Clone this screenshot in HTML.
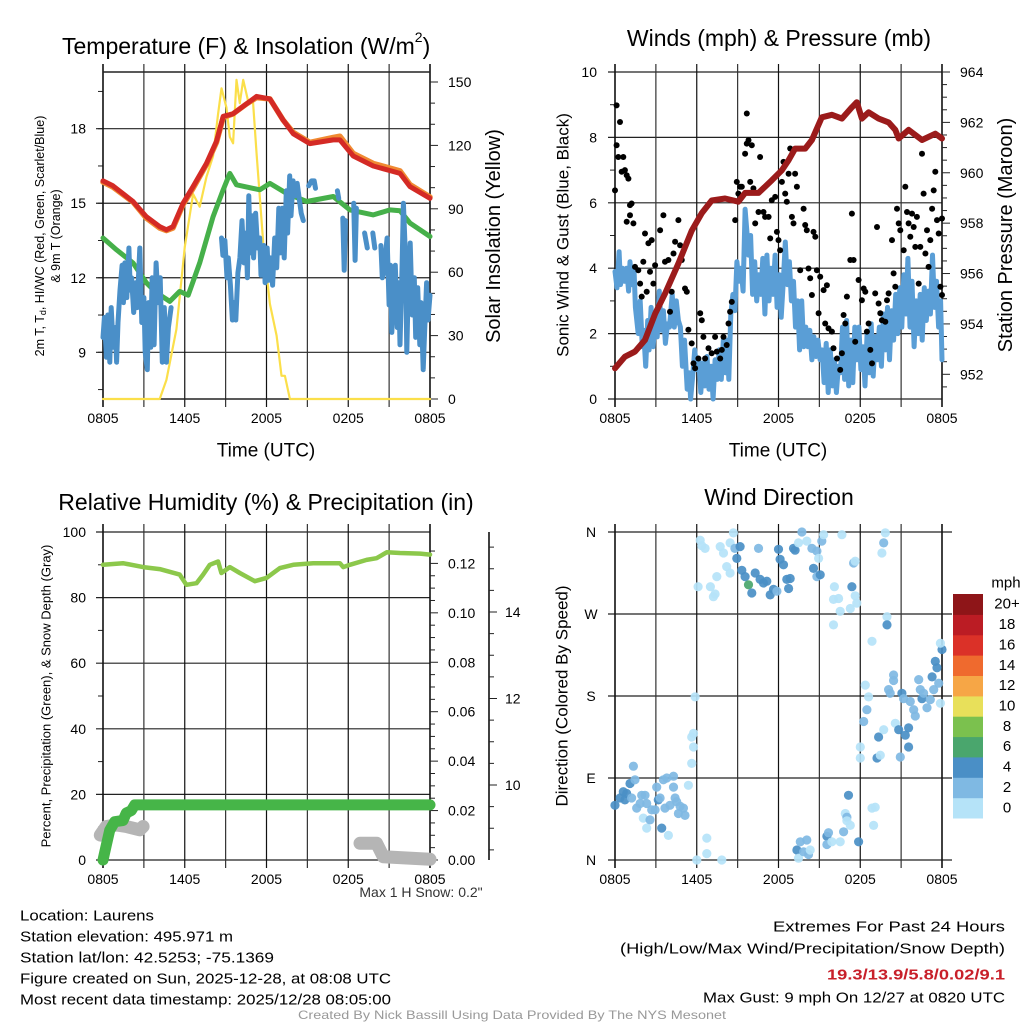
<!DOCTYPE html>
<html><head><meta charset="utf-8"><style>
html,body{margin:0;padding:0;background:#fff}
svg{display:block;font-family:"Liberation Sans",sans-serif}
</style></head><body>
<svg id="c" width="1024" height="1024" viewBox="0 0 1024 1024" xmlns="http://www.w3.org/2000/svg">
<g id="g"></g>
</svg>
<script>
// ---------- DATA ----------
const timeTicks=["0805","1405","2005","0205","0805"];
const tempTicks=[9,12,15,18];
const solarTicks=[0,30,60,90,120,150];
const windTicks=[0,2,4,6,8,10];
const presTicks=[952,954,956,958,960,962,964];
const rhTicks=[0,20,40,60,80,100];
const precipTicks=[0,0.02,0.04,0.06,0.08,0.10,0.12];
const precipLabels=["0.00","0.02","0.04","0.06","0.08","0.10","0.12"];
const snowTicks=[10,12,14];
const dirTicks=[0,90,180,270,360];
const dirLabels=["N","E","S","W","N"];
const cbarLabels=["0","2","4","6","8","10","12","14","16","18","20+"];
const cbarColors=["#b5e3f8","#7fb9e3","#4a8fc6","#4aa66d","#7bc14e","#e8e05a","#f6a646","#ef6a2e","#db3128","#bb1c24","#8e1518"];

const tempT=[0,0.73,2.2,3.18,4.16,4.65,5.14,5.88,6.61,7.59,8.33,8.82,9.55,10.53,11.27,12.25,13.22,13.96,15.18,16.9,17.39,18.37,19.84,21.8,22.53,24];
const tempV=[15.9,15.7,15.07,14.46,14.06,13.93,14.06,15.0,15.67,16.6,17.5,18.5,18.6,19.0,19.3,19.2,18.35,17.8,17.4,17.55,17.55,16.9,16.5,16.2,15.67,15.2];
const temp9V=[15.85,15.65,15.05,14.4,14.0,13.9,14.0,14.95,15.6,16.55,17.45,18.45,18.6,19.0,19.25,19.2,18.35,17.85,17.45,17.65,17.7,17.0,16.6,16.3,15.75,15.25];
const dewT=[0,0.98,2.2,3.18,3.92,4.9,5.63,6.25,7.1,8.08,8.82,9.31,9.8,11.51,12.25,13.47,14.94,16.9,18.12,19.84,21.06,21.8,22.53,24];
const dewV=[13.6,13.13,12.6,11.8,11.4,11.05,11.45,11.3,12.6,14.46,15.54,16.2,15.74,15.54,15.8,15.4,15.07,15.27,14.73,14.53,14.73,14.7,14.2,13.66];
const wcData=[[0,9.6],[0.1,10.4],[0.25,8.8],[0.35,10.5],[0.5,8.6],[0.6,10.8],[0.75,9.2],[0.9,10],[1,8.6],[1.1,10.2],[1.25,11.5],[1.4,12.5],[1.5,11],[1.6,12.6],[1.75,11.2],[1.9,13.2],[2,11.5],[2.1,12],[2.25,10.6],[2.4,11.8],[2.5,10.8],[2.7,13.2],[2.85,10.2],[3,11.2],[3.1,9],[3.25,8.3],[3.35,11],[3.5,9.2],[3.6,12],[3.75,9.3],[3.9,12.6],[4.05,11],[4.2,12],[4.35,8.6],[4.5,10.8],[4.65,8.6],[4.8,10],[5,10.8],null,
[8.7,13.6],[8.8,12.9],[8.95,13.5],[9.1,12],[9.2,12.8],[9.35,11.7],[9.5,10.3],[9.6,11],[9.75,10.3],[9.9,12.2],[10.05,12.8],[10.2,14.3],[10.35,12.6],[10.5,13.8],[10.6,12],[10.7,15.3],[10.8,13],[10.95,14.5],[11.05,12.8],[11.2,14.6],[11.35,13.2],[11.5,13.6],[11.6,12.1],[11.8,13.3],[11.9,11.8],[12.05,13.2],[12.15,11.9],[12.3,12.8],[12.45,11.7],[12.6,13.6],[12.75,12.4],[12.9,14.8],[13,13],[13.15,14.8],[13.3,12.8],[13.45,15.5],[13.55,13.8],[13.7,16.1],[13.8,14.5],[13.95,15.9],[14.1,15.3],[14.25,15.8],[14.4,15.2],[14.55,14.6],[14.7,14.3],null,
[15.1,15.7],[15.3,15.9],[15.5,15.9],[15.6,15.6],null,[17.2,15.5],[17.3,15.2],null,[17.6,14.4],[17.7,12.3],[17.8,14.3],null,[18.4,15],[18.5,12.7],[18.6,14.8],null,[19.2,13.8],[19.4,13.2],null,[19.8,13.8],[19.95,13.2],null,
[20.4,13.3],[20.5,12],[20.6,12.2],[20.85,13.6],[21,10.9],[21.1,12.5],[21.2,9.8],[21.35,11.5],[21.45,12.5],[21.6,10],[21.7,11.8],[21.8,9.3],[21.95,12.5],[22.05,15],[22.2,12.8],[22.3,9],[22.4,11.5],[22.55,13.4],[22.7,10.5],[22.85,12],[22.95,9.6],[23.1,11.6],[23.25,9.3],[23.35,11],[23.5,8.3],[23.6,9.8],[23.75,11.8],[23.85,10.3],[24,11.3]];
const solarT=[0,4.16,4.65,5.39,6.0,6.61,7.1,7.59,8.08,8.45,8.7,9.06,9.31,9.55,9.8,10.04,10.29,10.65,11.02,11.27,11.76,12.25,12.74,13.1,13.35,13.72,24];
const solarV=[0,0,9,33,72,97,91,105,115,135,147,138,124,121,151,140,151,141,140,116,74,45,30,11,11,0,0];

const presT=[0,0.73,1.47,2.2,2.94,3.67,4.65,5.63,6.37,7.1,8.08,9.06,9.55,10.53,11.51,12.25,12.74,13.22,13.96,14.45,15.18,15.92,16.65,17.39,17.75,18.12,18.61,19.35,20.08,20.57,20.82,21.55,22.53,23.51,24];
const presV=[952.24,952.7,952.9,953.36,954.4,955.2,956.4,957.7,958.4,958.9,958.98,958.85,959.2,959.2,959.7,960.1,960.5,960.96,960.96,961.3,962.2,962.3,962.15,962.6,962.8,962.15,962.4,962.15,962.0,961.7,961.36,961.7,961.3,961.55,961.36];
const sonicData=[[0,3.9],[0.15,3.4],[0.3,4.5],[0.4,3.5],[0.55,4],[0.7,3.6],[0.85,4],[1,3.3],[1.1,4.2],[1.25,3.5],[1.4,3.9],[1.5,2.8],[1.7,2],[1.85,3],[2,1.6],[2.1,2.1],[2.25,1],[2.4,2.4],[2.5,1.5],[2.65,2.8],[2.8,1.6],[2.95,2.4],[3.1,1.9],[3.25,3.3],[3.4,2.1],[3.55,2.7],[3.7,1.7],[3.85,2.3],[4,2.2],[4.2,3.2],[4.35,2.2],[4.5,3],[4.65,2.4],[4.8,2.2],[4.95,1],[5.1,1.8],[5.3,0.3],[5.45,0.8],[5.55,0],[5.7,0.7],[5.85,1.5],[6,0.9],[6.15,1.2],[6.3,0.2],[6.45,1.1],[6.6,0.4],[6.75,1.3],[6.9,0.3],[7.05,1],[7.2,0],[7.35,1.2],[7.5,0.6],[7.65,1.5],[7.8,0.6],[7.95,1.8],[8.1,0.8],[8.25,1.8],[8.35,0.6],[8.5,2.6],[8.65,3.2],[8.8,2.7],[8.95,4.2],[9.1,3.6],[9.25,4],[9.4,3.3],[9.55,5.8],[9.7,5],[9.8,4.4],[9.95,5],[10.1,3.2],[10.25,4.2],[10.4,3],[10.55,3.8],[10.7,3.2],[10.85,4.3],[11,2.6],[11.15,4.4],[11.3,3],[11.45,4],[11.6,3.2],[11.75,4.4],[11.9,2.8],[12.05,3.8],[12.2,2.5],[12.35,3.6],[12.5,4.8],[12.65,3.5],[12.8,4.2],[12.95,3],[13.1,3.6],[13.25,2.2],[13.4,3],[13.55,1.5],[13.7,3],[13.85,1.6],[14,2.2],[14.15,1.6],[14.3,2.1],[14.45,1.2],[14.6,1.9],[14.75,1.3],[14.9,1.8],[15.05,1.2],[15.2,1.5],[15.35,0.5],[15.5,1.7],[15.65,0.2],[15.8,1.5],[15.95,0.4],[16.1,1.2],[16.25,0.2],[16.4,1],[16.55,0.8],[16.7,2.2],[16.85,0.6],[17,2.4],[17.15,0.4],[17.3,1.8],[17.45,0.5],[17.6,2.2],[17.75,1.2],[17.9,2.2],[18.05,0.9],[18.2,1.6],[18.35,0.4],[18.5,2],[18.65,0.8],[18.8,2.3],[18.95,0.7],[19.1,1.9],[19.25,1.2],[19.4,2.2],[19.55,1],[19.7,2.6],[19.85,1.5],[20,2.8],[20.15,1.2],[20.3,2.7],[20.45,1.8],[20.6,3.2],[20.75,2],[20.9,3.4],[21.05,2.2],[21.2,3.8],[21.35,2.6],[21.5,4.3],[21.65,2.2],[21.8,3.6],[21.95,1.6],[22.1,3],[22.25,2],[22.4,3.2],[22.55,1.8],[22.7,3.4],[22.85,2.4],[23,3.3],[23.15,2.6],[23.3,4.4],[23.45,2.8],[23.6,3.6],[23.75,2.2],[23.9,3],[24,1.2]];
const gustData=[[0,6.38],[0.12,8.98],[0.37,8.47],[0.12,7.76],[0.24,7.4],[0.61,7.4],[0.49,6.95],[0.73,7],[0.86,6.84],[0.98,6.74],[1.1,5.93],[1.22,5.98],[0.86,5.42],[1.1,5.62],[1.35,5.37],[1.47,4.04],[1.71,3.94],[1.84,3.53],[1.96,3.13],[2.08,4.2],[2.33,3.28],[2.2,5.06],[2.45,4.76],[2.69,4.86],[2.57,3.89],[2.82,3.53],[2.94,4.09],[3.31,5.16],[3.55,5.62],[3.67,4.2],[3.92,4.25],[4.04,2.67],[4.16,3.28],[4.29,4.45],[4.41,4.81],[4.65,5.47],[4.78,4.7],[4.9,4.25],[5.14,3.38],[5.27,3.28],[5.39,2.12],[5.63,1.7],[5.76,1.09],[5.88,0.94],[6.12,1.24],[6.25,2.62],[6.37,2.41],[6.49,1.9],[6.61,1.24],[6.86,1.55],[7.1,1.4],[7.35,1.9],[7.47,1.45],[7.72,1.24],[7.84,1.5],[7.96,1.9],[8.2,1.65],[8.33,2.31],[8.45,2.67],[8.57,2.97],[8.82,5.47],[8.94,6.64],[9.06,6.28],[9.18,6.49],[9.31,6.49],[9.55,7.5],[9.67,7.81],[9.67,8.73],[9.8,7.91],[9.92,6.64],[10.04,7.76],[10.16,6.44],[10.29,5.37],[10.53,5.72],[10.65,7.4],[10.9,5.72],[11.02,5.57],[11.27,5.57],[11.39,4.91],[11.51,6.08],[11.76,6.18],[11.88,5.11],[12,4.86],[12.12,4.55],[12.25,6.64],[12.37,7.25],[12.49,6.28],[12.61,6.03],[12.74,6.89],[12.86,7.66],[12.98,5.57],[13.1,5.37],[13.22,6.89],[13.35,6.49],[13.59,3.94],[13.84,5.82],[13.96,5.32],[14.08,5.16],[14.2,3.99],[14.33,3.69],[14.45,3.18],[14.57,5.11],[14.7,4.96],[14.82,3.94],[14.94,2.62],[15.06,3.74],[15.31,3.33],[15.55,3.48],[15.43,2.31],[15.67,2.16],[15.92,2.06],[16.04,1.55],[16.29,1.24],[16.53,0.89],[16.65,1.4],[16.78,2.57],[16.9,2.31],[17.02,3.13],[17.27,4.25],[17.39,5.67],[17.51,4.25],[17.63,1.75],[17.88,3.64],[18.12,3.02],[18.25,3.38],[18.37,3.28],[18.49,2.06],[18.61,2.31],[18.74,1.5],[18.86,1.09],[19.1,3.23],[19.23,5.26],[19.35,2.92],[19.47,2.62],[19.59,2.41],[19.84,2.36],[19.96,3.02],[20.08,3.23],[20.33,4.86],[20.45,3.84],[20.57,3.43],[20.7,5.82],[20.82,5.37],[20.94,5.16],[21.19,4.55],[21.31,6.49],[21.43,5.72],[21.55,5.37],[21.67,4.96],[21.8,5.67],[21.92,5.26],[22.04,4.65],[22.16,5.57],[22.29,3.53],[22.41,4.65],[22.53,7.5],[22.65,6.28],[22.78,4.45],[22.9,5.16],[23.02,4.04],[23.14,4.86],[23.27,5.82],[23.39,6.38],[23.51,6.95],[23.63,5.47],[23.76,5.06],[23.88,3.43],[24,5.52],[24,3.18]];

const rhT=[0,1.47,2.94,4.16,5.63,6.12,6.86,7.35,7.84,8.45,8.69,9.31,10.04,11.14,12,12.98,13.96,15.43,17.39,17.63,18.12,19.35,20.08,20.82,21.8,23.27,24];
const rhV=[90,90.5,89.3,88.7,87,83.9,84.4,87,90,91,87.5,89.3,87.5,85,86,89,90,90.5,90.5,89.3,90,91.5,92,93.8,93.6,93.4,93.1];
const precipT=[0,0.24,0.49,0.86,1.47,1.71,2.08,2.33,24];
const precipV=[0,0.006,0.012,0.0155,0.016,0.019,0.02,0.0223,0.0223];
const snowSeg1T=[-0.2,0.24,0.98,1.71,2.69,2.94];
const snowSeg1V=[7.6,10.2,10.7,10.2,9.2,10.2];
const snowSeg2T=[18.86,20.08,20.57,24];
const snowSeg2V=[5.1,5.1,1.0,0.2];

const dirData=[[0,60,4.5],[0.37,68,4.5],[0.61,75,4.5],[0.86,73,4.5],[1.1,84,4.5],[0.73,66,4.5],[1.22,68,3],[1.35,103,3],[1.47,88,3],[1.59,57,3],[1.84,62,3],[1.96,71,3],[2.2,71,3],[2.33,62,3],[2.08,46,1],[2.33,35,1],[2.57,44,3],[2.69,55,3],[2.94,55,3],[3.06,80,3],[3.18,66,4.5],[3.31,68,3],[3.43,35,4.5],[3.55,88,3],[3.8,90,3],[3.67,57,3],[3.92,27,1],[4.04,60,3],[4.29,92,3],[4.29,80,3],[4.41,68,3],[4.53,64,3],[4.65,51,3],[4.78,59,3],[5.02,57,3],[5.14,49,3],[5.39,82,1],[5.63,106,1],[5.76,124,1],[5.63,135,1],[5.76,139,1],[5.88,179,1],[6.0,0,1],[6.74,24,1],[6.74,7,1],[7.84,0,1],
[6.25,351,1],[6.37,345,1],[6.1,300,1],[6.61,342,1],[7.0,300,1],[7.22,289,1],[7.35,292,1],[7.47,311,1],[7.72,344,1],[7.96,337,1],[8.2,322,1],[8.45,315,1],[8.69,359,1],[8.45,348,1],[8.8,342,3],[8.94,331,4.5],[9.18,344,4.5],[9.31,318,4.5],[9.55,311,4.5],[9.8,302,6.5],[10.04,293,4.5],[10.29,315,4.5],[10.53,342,3],[10.65,308,4.5],[10.9,304,4.5],[11.14,306,4.5],[11.39,291,4.5],[11.63,297,4.5],[11.88,295,3],[12.0,341,4.5],[12.12,330,4.5],[12.37,324,4.5],[12.61,308,4.5],[12.74,298,4.5],[12.86,309,4.5],[13.1,342,4.5],[13.22,340,4.5],[13.47,348,1],[13.72,360,3],[14.08,350,1],[14.45,342,3],[14.57,320,4.5],[14.82,311,3],[15.06,313,4.5],[14.82,339,3],[14.94,331,1],[15.18,350,3],[15.31,357,1],[16.1,300,1],[16.04,286,1],[16.41,287,1],[16.53,273,1],[16.04,258,1],[16.65,357,1],[17.27,276,1],[17.51,326,3],[17.63,328,1],[17.39,300,4.5],[17.63,290,1],[17.75,282,1],[18.86,240,1],[19.59,337,1],[19.72,348,3],[19.84,359,1],[19.96,267,1],[19.96,258,4.5],
[13.35,11,4.5],[13.47,2,1],[13.6,20,3],[13.84,9,3],[14.08,22,3],[14.2,6,3],[14.33,11,1],[15.55,26,4.5],[15.67,30,3],[15.55,17,3],[15.92,20,1],[16.53,20,1],[16.78,31,3],[16.9,51,1],[17.02,47,3],[17.02,43,1],[17.14,71,4.5],[17.27,38,1],[17.88,20,4.5],[18.0,124,1],[18.0,112,1],[18.25,152,3],[18.37,192,1],[18.61,179,1],[18.49,165,3],[18.86,57,1],[18.98,38,1],[19.1,58,1],[19.23,112,4.5],[19.35,135,4.5],[19.47,115,1],[19.72,143,1],[20.08,187,3],[20.45,203,3],[20.45,197,3],[20.2,183,3],[20.57,150,1],[20.82,143,4.5],[20.94,113,3],[21.06,183,4.5],[21.18,177,3],[21.31,137,4.5],[21.55,145,4.5],[21.55,124,4.5],[21.67,174,3],[21.92,165,3],[22.04,158,3],[22.29,198,3],[22.41,187,3],[22.53,177,4.5],[22.65,183,3],[22.9,167,3],[23.14,176,3],[23.27,201,4.5],[23.39,187,3],[23.51,218,4.5],[23.63,211,4.5],[23.76,194,3],[23.88,172,1],[24,231,4.5],[23.88,238,1]];

// ---------- RENDER ----------
const NS="http://www.w3.org/2000/svg";
const G=document.getElementById('g');
function el(tag,attrs,parent){const e=document.createElementNS(NS,tag);for(const k in attrs)e.setAttribute(k,attrs[k]);(parent||G).appendChild(e);return e;}
function txt(s,x,y,size,anchor,name,extra,parent){const e=el('text',Object.assign({x:x,y:y,'font-size':size,'text-anchor':anchor||'start','dominant-baseline':'central',fill:'#000'},extra||{}),parent);e.textContent=s;return e;}
function lin(d0,d1,r0,r1){return v=>r0+(v-d0)*(r1-r0)/(d1-d0);}
function pathFrom(pts,fx,fy){let d='',pen=false;for(const p of pts){if(!p){pen=false;continue;}d+=(pen?'L':'M')+fx(p[0]).toFixed(1)+' '+fy(p[1]).toFixed(1);pen=true;}return d;}
function zip(a,b){return a.map((v,i)=>[v,b[i]]);}
function line(pts,fx,fy,color,w,name,g){const e=el('path',{d:pathFrom(pts,fx,fy),fill:'none',stroke:color,'stroke-width':w,'stroke-linejoin':'round','stroke-linecap':'round'},g);return e;}

function frame(x0,x1,y0,y1,name){
  const g=el('g',{});
  return g;
}
function timeGrid(g,x0,x1,y0,y1,labelY){
  const fx=lin(0,24,x0,x1);
  for(let h=0;h<=24;h+=3){const x=fx(h);
    const l=el('line',{x1:x,x2:x,y1:y0-8,y2:y1+8,stroke:(h%6==3)?'#333':'#111','stroke-width':(h==0||h==24)?1.6:1.2},g);
    }
  timeTicks.forEach((s,i)=>txt(s,fx(i*6),labelY,14,'middle','x-tick-label',null,g));
  return fx;
}
function hGrid(g,x0,x1,y,w){const l=el('line',{x1:x0-7,x2:x1,y1:y,y2:y,stroke:'#222','stroke-width':w||1.2},g);}
function tick(g,x,y,len){const l=el('line',{x1:x,x2:x+len,y1:y,y2:y,stroke:'#222','stroke-width':1},g);}
function vline(g,x,y0,y1,w){const l=el('line',{x1:x,x2:x,y1:y0,y2:y1,stroke:'#111','stroke-width':w||1.6},g);}

// Panel 1
(function(){
  const x0=103,x1=430,y0=72,y1=399;
  const g=frame(x0,x1,y0,y1,'temperature-panel');
  const fy=lin(9,18,352.3,128.7), fs=lin(0,150,399,82);
  for(let v=7.5;v<=19.5;v+=1.5){tick(g,x0-5,fy(v),5);}
  tempTicks.forEach(v=>{hGrid(g,x0,x1,fy(v));txt(String(v),86,fy(v),14,'end','temp-tick-label',null,g);});
  const fx=timeGrid(g,x0,x1,y0,y1,418);
  hGrid(g,x0+7,x1,y0,1.4);hGrid(g,x0+7,x1,y1,1.4);
  for(let v=0;v<=150;v+=10)tick(g,x1,fs(v),v%30==0?8:5);
  solarTicks.forEach(v=>txt(String(v),448,fs(v),14,'start','solar-tick-label',null,g));
  line(zip(solarT,solarV),fx,fs,'#fbdf4a',2.2,'solar-insolation-line',g);
  line(zip(dewT,dewV),fx,fy,'#46b04a',5,'dewpoint-line',g);
  line(wcData,fx,fy,'#4a8fc8',5,'windchill-line',g);
  line(zip(tempT,temp9V),fx,fy,'#f08a32',5.5,'temp-9m-line',g);
  line(zip(tempT,tempV),fx,fy,'#d42a25',5,'temp-2m-line',g);
  txt('Temperature (F) & Insolation (W/m',62,46,23,'start','panel-title',null,g).innerHTML='Temperature (F) &amp; Insolation (W/m<tspan dy="-9" font-size="14">2</tspan><tspan dy="9">)</tspan>';
  txt('Time (UTC)',266,451,19,'middle','x-axis-title',null,g);
  const t1=txt('',0,0,12.5,'middle','y-axis-title',{transform:'translate(40,236) rotate(-90)'},g);
  t1.innerHTML='2m T, T<tspan dy="3" font-size="9">d</tspan><tspan dy="-3">, HI/WC (Red, Green, Scarlet/Blue)</tspan>';
  txt('& 9m T (Orange)',0,0,12.5,'middle','y-axis-title-2',{transform:'translate(56,236) rotate(-90)'},g);
  txt('Solar Insolation (Yellow)',0,0,20,'middle','y2-axis-title',{transform:'translate(494,236) rotate(-90)'},g);
})();

// Panel 2
(function(){
  const x0=615,x1=942,y0=72,y1=399;
  const g=frame(x0,x1,y0,y1,'winds-panel');
  const fy=lin(0,10,399,72), fp=lin(952,964,374.3,72);
  for(let v=1;v<10;v+=2)tick(g,x0-5,fy(v),5);
  windTicks.forEach(v=>{hGrid(g,x0,x1,fy(v));txt(String(v),597,fy(v),14,'end','wind-tick-label',null,g);});
  const fx=timeGrid(g,x0,x1,y0,y1,418);
  for(let v=951.5;v<=964;v+=0.5)tick(g,x1,fp(v),(v%2==0)?8:5);
  presTicks.forEach(v=>txt(String(v),960,fp(v),14,'start','pressure-tick-label',null,g));
  line(sonicData,fx,fy,'#5a9ed6',5,'sonic-wind-line',g);
  gustData.forEach(p=>{const c=el('circle',{cx:fx(p[0]).toFixed(1),cy:fy(p[1]).toFixed(1),r:3,fill:'#000'},g);
    
    });
  line(zip(presT,presV),fx,fp,'#9b1b1b',6,'pressure-line',g);
  txt('Winds (mph) & Pressure (mb)',779,38,23,'middle','panel-title',null,g);
  txt('Time (UTC)',778,451,19,'middle','x-axis-title',null,g);
  txt('Sonic Wind & Gust (Blue, Black)',0,0,17,'middle','y-axis-title',{transform:'translate(563,235) rotate(-90)'},g);
  txt('Station Pressure (Maroon)',0,0,20,'middle','y2-axis-title',{transform:'translate(1006,235) rotate(-90)'},g);
})();

// Panel 3
(function(){
  const x0=103,x1=430,y0=532,y1=860;
  const g=frame(x0,x1,y0,y1,'humidity-panel');
  const fy=lin(0,100,860,532), fp=lin(0,0.12,860,563.4), fsn=lin(10,14,785,612);
  for(let v=10;v<100;v+=20)tick(g,x0-5,fy(v),5);
  rhTicks.forEach(v=>{hGrid(g,x0,x1,fy(v));txt(String(v),86,fy(v),14,'end','rh-tick-label',null,g);});
  const fx=timeGrid(g,x0,x1,y0,y1,879);
  for(let v=0;v<=0.13;v+=0.005)tick(g,x1,fp(v),(Math.round(v*1000)%20==0)?8:5);
  precipTicks.forEach((v,i)=>txt(precipLabels[i],448,fp(v),14,'start','precip-tick-label',null,g));
  vline(g,489,532,860,1.6);
  for(let v=8.5;v<=15.5;v+=0.5)tick(g,489,fsn(v),(v%2==0)?8:5);
  snowTicks.forEach(v=>txt(String(v),505,fsn(v),14,'start','snow-tick-label',null,g));
  line(zip(snowSeg1T,snowSeg1V),fx,fy,'#b5b5b5',13,'snow-depth-line',g);
  line(zip(snowSeg2T,snowSeg2V),fx,fy,'#b5b5b5',13,'snow-depth-line-2',g);
  line(zip(precipT,precipV),fx,fp,'#46b548',11,'precip-line',g);
  line(zip(rhT,rhV),fx,fy,'#8cc84b',4.5,'rh-line',g);
  txt('Relative Humidity (%) & Precipitation (in)',266,502,23,'middle','panel-title',null,g);
  txt('Percent, Precipitation (Green), & Snow Depth (Gray)',0,0,13,'middle','y-axis-title',{transform:'translate(46,696) rotate(-90)'},g);
  txt('Max 1 H Snow: 0.2"',421,892,14,'middle','max-snow-note',{fill:'#333'},g);
})();

// Panel 4
(function(){
  const x0=615,x1=942,y0=532,y1=860;
  const g=frame(x0,x1,y0,y1,'wind-direction-panel');
  const fy=lin(0,360,860,532);
  dirTicks.forEach((v,i)=>{hGrid(g,x0,x1+10,fy(v));txt(dirLabels[i],591,fy(v),14,'middle','direction-tick-label',null,g);});
  const fx=timeGrid(g,x0,x1,y0,y1,879);
  function col(s){return cbarColors[Math.min(10,Math.floor(s/2))];}
  dirData.forEach(p=>{const c=el('circle',{cx:fx(p[0]).toFixed(1),cy:fy(p[1]).toFixed(1),r:4.6,fill:col(p[2]),'fill-opacity':0.92},g);
    
    });
  txt('Wind Direction',779,497,23,'middle','panel-title',null,g);
  txt('Direction (Colored By Speed)',0,0,17,'middle','y-axis-title',{transform:'translate(562,696) rotate(-90)'},g);
  const lg=el('g',{},g);
  const cb0=818,cbH=(818-594)/11;
  cbarColors.forEach((c,i)=>{const r=el('rect',{x:953,y:(cb0-(i+1)*cbH).toFixed(1),width:30,height:(cbH+0.5).toFixed(1),fill:c},lg);
    
    });
  cbarLabels.forEach((s,i)=>txt(s,1007,cb0-(i+0.5)*cbH,15,'middle','colorbar-label',null,lg));
  txt('mph',1006,583,15,'middle','colorbar-title',null,lg);
})();

// Footer text
const left=["Location: Laurens","Station elevation: 495.971 m","Station lat/lon: 42.5253; -75.1369","Figure created on Sun, 2025-12-28, at 08:08 UTC","Most recent data timestamp: 2025/12/28 08:05:00"];
const leftW=[134,213,254,371,371];
left.forEach((s,i)=>txt(s,20,916+i*21,15,'start','station-info-line',{textLength:leftW[i],lengthAdjust:'spacingAndGlyphs'}));
txt('Extremes For Past 24 Hours',1005,927,15,'end','extremes-title',{textLength:232,lengthAdjust:'spacingAndGlyphs'});
txt('(High/Low/Max Wind/Precipitation/Snow Depth)',1005,949,15,'end','extremes-subtitle',{textLength:385,lengthAdjust:'spacingAndGlyphs'});
txt('19.3/13.9/5.8/0.02/9.1',1005,975,15,'end','extremes-values',{fill:'#c8202a','font-weight':'bold',textLength:178,lengthAdjust:'spacingAndGlyphs'});
txt('Max Gust: 9 mph On 12/27 at 0820 UTC',1005,998,15,'end','max-gust-note',{textLength:302,lengthAdjust:'spacingAndGlyphs'});
txt('Created By Nick Bassill Using Data Provided By The NYS Mesonet',512,1015,12,'middle','credit-line',{fill:'#999',textLength:428,lengthAdjust:'spacingAndGlyphs'});
</script>
</body></html>
